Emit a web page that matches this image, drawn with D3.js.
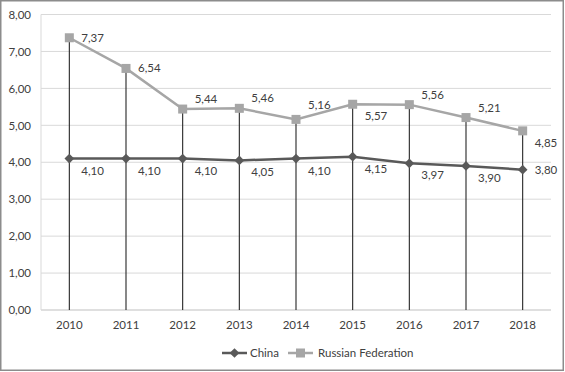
<!DOCTYPE html>
<html>
<head>
<meta charset="utf-8">
<script src="https://cdn.jsdelivr.net/npm/d3@7"></script>
<style>
  body { margin: 0; background: #fff; }
  svg text { font-family: Lato, "Open Sans", sans-serif; fill: #404040; }
</style>
</head>
<body>
<div id="chart"></div>
<script>
const years = ['2010', '2011', '2012', '2013', '2014', '2015', '2016', '2017', '2018'];
const china = [4.10, 4.10, 4.10, 4.05, 4.10, 4.15, 3.97, 3.90, 3.80];
const russia = [7.37, 6.54, 5.44, 5.46, 5.16, 5.57, 5.56, 5.21, 4.85];
const yTicks = [0, 1, 2, 3, 4, 5, 6, 7, 8];

// label placement per point: r = right, ar = above right, aar = higher, br = below right
const russiaPos = ['r', 'r', 'ar', 'ar', 'aar', 'br', 'ar', 'ar', 'br'];
const chinaPos = ['br', 'br', 'br', 'br', 'br', 'br', 'br', 'br', 'r'];

const W = 565, H = 372;
const fmt = d => d3.format('.2f')(d).replace('.', ',');

const svg = d3.select('#chart').append('svg')
    .attr('width', W).attr('height', H);

svg.append('rect')
    .attr('x', 0.75).attr('y', 0.75)
    .attr('width', W - 2.5).attr('height', H - 2.5)
    .attr('fill', '#fff').attr('stroke', '#8c8c8c').attr('stroke-width', 1.5);

const x = d3.scaleBand().domain(years).range([41, 551]);
const y = d3.scaleLinear().domain([0, 8]).range([310, 14.5]);
const cx = d => x(d) + x.bandwidth() / 2;

// gridlines
svg.append('g').selectAll('line').data(yTicks).join('line')
    .attr('x1', 41).attr('x2', 551)
    .attr('y1', d => y(d)).attr('y2', d => y(d))
    .attr('stroke', d => d === 0 ? '#bfbfbf' : '#d9d9d9').attr('stroke-width', 1);

svg.append('line')
    .attr('x1', 41).attr('x2', 41).attr('y1', y(8)).attr('y2', y(0))
    .attr('stroke', '#d9d9d9');

// y axis labels
const yAxis = svg.append('g')
    .attr('transform', 'translate(31,0)')
    .call(d3.axisLeft(y).tickValues(yTicks).tickFormat(fmt).tickSize(0).tickPadding(0));
yAxis.select('.domain').remove();
yAxis.selectAll('text').style('font-size', '11.5px').attr('fill', '#404040');

// x axis labels
const xAxis = svg.append('g')
    .attr('transform', `translate(0,${y(0)})`)
    .call(d3.axisBottom(x).tickSize(0).tickPadding(11));
xAxis.select('.domain').remove();
xAxis.selectAll('text').style('font-size', '11.5px').attr('fill', '#404040');

// drop lines
svg.append('g').selectAll('line').data(years).join('line')
    .attr('x1', d => cx(d)).attr('x2', d => cx(d))
    .attr('y1', (d, i) => y(russia[i])).attr('y2', y(0))
    .attr('stroke', '#262626').attr('stroke-width', 1.1);

const line = d3.line().x((d, i) => cx(years[i])).y(d => y(d));

svg.append('path').datum(russia)
    .attr('d', line).attr('fill', 'none')
    .attr('stroke', '#a6a6a6').attr('stroke-width', 2.5);

svg.append('path').datum(china)
    .attr('d', line).attr('fill', 'none')
    .attr('stroke', '#595959').attr('stroke-width', 2.5);

svg.append('g').selectAll('rect').data(russia).join('rect')
    .attr('x', (d, i) => cx(years[i]) - 4.5).attr('y', d => y(d) - 4.5)
    .attr('width', 9).attr('height', 9).attr('fill', '#a6a6a6');

const diamond = d3.symbol().type(d3.symbolDiamond2).size(60);
svg.append('g').selectAll('path').data(china).join('path')
    .attr('d', diamond)
    .attr('transform', (d, i) => `translate(${cx(years[i])},${y(d)})`)
    .attr('fill', '#595959');

const off = { r: [12, 0], ar: [12, -10], aar: [12, -14], br: [12, 12] };

function labels(values, pos) {
    svg.append('g').selectAll('text').data(values).join('text')
        .attr('x', (d, i) => cx(years[i]) + off[pos[i]][0])
        .attr('y', (d, i) => y(d) + off[pos[i]][1])
        .attr('dy', '0.35em')
        .style('font-size', '11.5px')
        .text(fmt);
}
labels(russia, russiaPos);
labels(china, chinaPos);

// legend
const lg = svg.append('g').attr('transform', 'translate(0,353)');
lg.append('line').attr('x1', 222).attr('x2', 247).attr('stroke', '#595959').attr('stroke-width', 2.5);
lg.append('path').attr('d', diamond).attr('transform', 'translate(234.5,0)').attr('fill', '#595959');
lg.append('text').attr('x', 250).attr('dy', '0.35em').style('font-size', '11.5px').text('China');
lg.append('line').attr('x1', 288).attr('x2', 313).attr('stroke', '#a6a6a6').attr('stroke-width', 2.5);
lg.append('rect').attr('x', 296).attr('y', -4.5).attr('width', 9).attr('height', 9).attr('fill', '#a6a6a6');
lg.append('text').attr('x', 318).attr('dy', '0.35em').style('font-size', '11.5px').text('Russian Federation');
</script>
</body>
</html>
